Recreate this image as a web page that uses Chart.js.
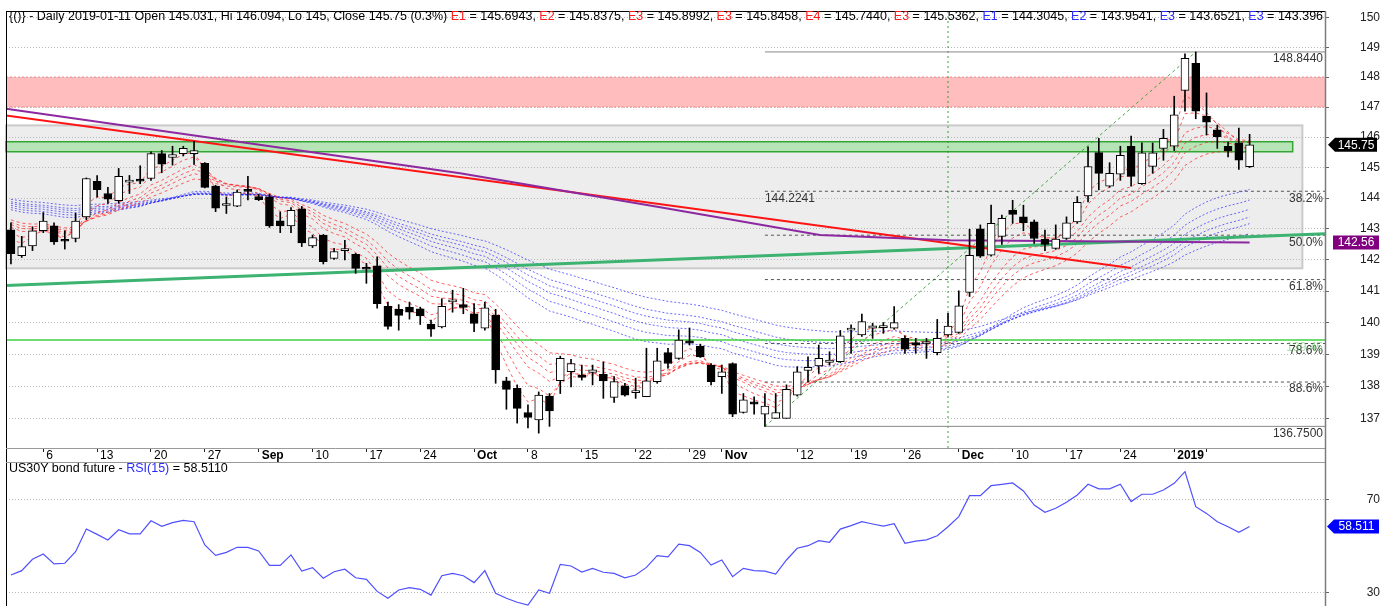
<!DOCTYPE html>
<html><head><meta charset="utf-8">
<script src="https://cdn.jsdelivr.net/npm/chart.js@4.4.1/dist/chart.umd.min.js"></script>
<style>
html,body{margin:0;padding:0;background:#fff;width:1399px;height:606px;overflow:hidden;font-family:"Liberation Sans",Arial,sans-serif;}
#c1{position:absolute;left:0;top:0;}
#c2{position:absolute;left:0;top:463px;}
#hdr{position:absolute;left:9px;top:9px;width:1314px;overflow:hidden;white-space:nowrap;font-size:12.5px;line-height:14px;color:#000;}
#rsiT{position:absolute;left:9px;top:461px;font-size:12.5px;line-height:14px;white-space:nowrap;color:#000;}
.r{color:#ff1a1a}.b{color:#2a2aff}
</style></head><body>
<canvas id="c1" width="1399" height="463"></canvas>
<canvas id="c2" width="1399" height="143"></canvas>
<div id="hdr">{()} - Daily 2019-01-11 Open 145.031, Hi 146.094, Lo 145, Close 145.75 (0.3%) <span class="r">E1</span> = 145.6943, <span class="r">E2</span> = 145.8375, <span class="r">E3</span> = 145.8992, <span class="r">E3</span> = 145.8458, <span class="r">E4</span> = 145.7440, <span class="r">E3</span> = 145.5362, <span class="b">E1</span> = 144.3045, <span class="b">E2</span> = 143.9541, <span class="b">E3</span> = 143.6521, <span class="b">E3</span> = 143.3960</div>
<div id="rsiT">US30Y bond future - <span class="b">RSI(15)</span> = 58.5110</div>
<script>
// ---------- DATA ----------
const dates = [
'2018-08-01','2018-08-02','2018-08-03','2018-08-06','2018-08-07','2018-08-08','2018-08-09','2018-08-10','2018-08-13','2018-08-14',
'2018-08-15','2018-08-16','2018-08-17','2018-08-20','2018-08-21','2018-08-22','2018-08-23','2018-08-24','2018-08-27','2018-08-28',
'2018-08-29','2018-08-30','2018-08-31','2018-09-03','2018-09-04','2018-09-05','2018-09-06','2018-09-07','2018-09-10','2018-09-11',
'2018-09-12','2018-09-13','2018-09-14','2018-09-17','2018-09-18','2018-09-19','2018-09-20','2018-09-21','2018-09-24','2018-09-25',
'2018-09-26','2018-09-27','2018-09-28','2018-10-01','2018-10-02','2018-10-03','2018-10-04','2018-10-05','2018-10-08','2018-10-09',
'2018-10-10','2018-10-11','2018-10-12','2018-10-15','2018-10-16','2018-10-17','2018-10-18','2018-10-19','2018-10-22','2018-10-23',
'2018-10-24','2018-10-25','2018-10-26','2018-10-29','2018-10-30','2018-10-31','2018-11-01','2018-11-02','2018-11-05','2018-11-06',
'2018-11-07','2018-11-08','2018-11-09','2018-11-12','2018-11-13','2018-11-14','2018-11-15','2018-11-16','2018-11-19','2018-11-20',
'2018-11-21','2018-11-22','2018-11-23','2018-11-26','2018-11-27','2018-11-28','2018-11-29','2018-11-30','2018-12-03','2018-12-04',
'2018-12-05','2018-12-06','2018-12-07','2018-12-10','2018-12-11','2018-12-12','2018-12-13','2018-12-14','2018-12-17','2018-12-18',
'2018-12-19','2018-12-20','2018-12-21','2018-12-24','2018-12-26','2018-12-27','2018-12-28','2018-12-31','2019-01-02','2019-01-03',
'2019-01-04','2019-01-07','2019-01-08','2019-01-09','2019-01-10','2019-01-11'];

const open = [142.97,142.14,142.45,142.94,143.10,142.62,142.69,143.39,144.55,144.15,
143.92,144.52,144.62,144.64,145.46,145.33,145.46,145.46,145.14,144.39,
143.76,143.74,144.24,144.05,144.04,143.26,143.10,143.65,142.45,142.80,
142.05,142.30,142.18,141.72,141.81,140.52,140.42,140.49,140.44,139.95,
139.86,140.66,140.57,140.28,139.82,140.24,138.17,137.93,137.18,136.95,
137.69,138.17,138.45,138.35,138.43,138.37,137.65,138.01,137.80,137.67,
138.14,139.05,138.87,139.42,139.26,138.66,138.30,138.71,137.18,137.51,
137.13,137.00,137.00,137.72,138.49,138.63,138.74,138.77,139.76,139.61,
139.82,139.84,139.82,139.50,139.37,139.34,139.05,139.61,139.69,140.96,
143.00,142.15,142.76,143.60,143.39,143.23,142.66,142.37,142.69,143.23,
144.07,145.49,144.39,144.78,145.70,144.47,145.04,145.63,145.70,147.55,
148.46,146.69,146.24,145.70,145.81,145.031];
const high = [143.20,142.76,143.07,143.53,143.20,142.94,143.51,144.66,144.74,144.35,
144.97,144.74,145.06,145.52,145.56,145.70,145.70,145.86,145.16,144.42,
144.03,144.26,144.71,144.13,144.13,143.55,143.69,143.73,142.80,142.82,
142.37,142.63,142.21,141.89,142.10,140.65,140.57,140.65,140.49,140.08,
140.76,141.03,141.09,140.60,140.65,140.42,138.28,138.04,137.42,137.82,
137.77,138.94,138.84,138.66,138.66,138.76,138.30,138.09,138.25,139.19,
139.19,139.19,139.77,139.83,139.32,138.71,138.66,138.73,137.77,137.67,
137.77,137.77,138.04,138.61,138.92,139.29,139.08,139.75,139.93,140.27,
139.98,140.00,140.51,139.58,139.50,139.50,140.10,140.29,141.01,142.99,
143.13,143.77,143.45,143.93,143.77,143.29,142.96,143.13,143.39,144.05,
145.68,145.96,145.16,145.70,146.04,145.81,145.81,146.26,147.36,148.78,
148.844,147.47,146.40,145.84,146.30,146.094];
const low = [141.87,142.08,142.30,142.88,142.50,142.35,142.58,143.30,144.03,143.83,
143.83,144.15,144.47,144.58,144.83,145.08,145.38,145.10,144.33,143.56,
143.50,143.72,143.94,143.92,143.05,142.88,142.88,142.43,142.40,141.87,
142.02,142.00,141.57,141.25,140.46,139.79,139.76,140.11,139.94,139.56,
139.83,140.33,140.28,139.71,139.76,138.09,137.28,136.85,136.70,136.54,
136.75,137.77,137.98,138.19,138.04,137.62,137.49,137.69,137.62,137.67,
138.09,138.56,138.84,139.29,138.90,138.04,137.77,137.05,137.16,137.13,
136.75,137.00,137.00,137.69,138.14,138.40,138.66,138.74,139.03,139.56,
139.50,139.66,139.79,139.03,139.03,138.87,138.98,139.56,139.66,140.83,
142.08,142.12,142.50,143.18,142.94,142.53,142.30,142.34,142.66,143.18,
143.88,144.27,144.35,144.58,144.39,144.45,144.81,145.24,145.56,146.86,
146.61,146.07,145.63,145.35,144.94,145.00];
const close = [142.20,142.43,142.94,143.25,142.58,142.60,143.25,144.64,144.28,143.97,
144.71,144.55,144.55,145.46,145.11,145.43,145.63,145.56,144.35,143.67,
143.82,144.20,144.22,143.95,143.10,143.10,143.60,142.55,142.72,141.94,
142.27,142.36,141.73,141.70,140.60,139.88,140.23,140.33,140.21,139.79,
140.52,140.68,140.48,139.97,140.47,138.51,137.90,137.31,137.03,137.72,
137.23,138.87,138.71,138.27,138.51,138.16,138.14,137.72,137.83,138.17,
138.79,138.71,139.45,139.35,138.92,138.14,138.45,137.13,137.57,137.44,
137.38,137.18,137.90,138.45,138.59,138.87,138.82,139.58,139.78,140.03,
139.90,139.86,140.00,139.16,139.29,139.36,139.50,139.89,140.53,142.15,
142.12,143.18,143.34,143.47,143.20,142.69,142.50,142.67,143.20,143.86,
145.03,144.81,144.81,145.40,144.71,145.48,145.48,145.96,146.74,148.63,
146.86,146.50,146.02,145.55,145.24,145.75];

const rsi15 = [37.5,39.4,44.3,46.6,42.3,42.6,47.6,57.4,55.1,52.7,
57.1,55.3,55.3,61.0,58.6,60.2,61.2,60.6,50.5,46.0,
47.3,49.5,49.5,47.9,41.7,41.7,46.2,39.2,40.7,36.1,
38.9,40.0,36.3,35.6,30.4,27.4,31.0,32.0,31.3,28.8,
37.2,38.2,37.2,34.2,39.4,29.6,27.4,25.7,24.5,31.0,
29.6,42.1,41.4,38.8,40.4,38.7,38.2,36.3,37.5,40.8,
45.9,45.4,50.9,50.2,47.3,41.8,44.0,36.8,40.4,39.4,
39.2,37.9,44.0,49.1,50.2,52.4,51.7,57.4,58.9,60.6,
59.6,58.7,59.7,51.2,52.2,52.7,54.5,58.4,62.8,71.9,
71.9,76.2,76.8,77.4,73.9,67.8,64.7,66.4,69.0,72.2,
76.8,74.8,74.8,76.8,69.3,72.5,72.5,74.3,77.2,82.3,
67.1,64.2,60.6,58.4,56.0,58.511];

// Guppy-style EMA ribbons (periods) and their values just before the first visible bar
const shortPeriods = [3, 5, 8, 10, 12, 15];
const shortSeeds   = [143.10, 143.20, 143.30, 143.35, 143.40, 143.45];
const longPeriods  = [30, 35, 40, 45, 50, 60];
const longSeeds    = [143.72, 143.78, 143.84, 143.90, 143.95, 144.02];

// x-axis tick labels (bar index -> text)
const xTickIdx  = [3, 8, 13, 18, 23, 28, 33, 38, 43, 48, 53, 58, 63, 66, 73, 78, 83, 88, 93, 98, 103, 108, 111];
const xTickText = ['6','13','20','27','Sep','10','17','24','Oct','8','15','22','29','Nov','12','19','26','Dec','10','17','24','2019',''];
const boldTicks = ['Sep','Oct','Nov','Dec','2019'];
const priceTicks = [137,138,139,140,141,142,143,144,145,146,147,148,149,150];
const rsiTicks = [30, 70];

// drawn studies (bar index, price)
const redTrend    = [[-0.46, 146.72], [104, 141.74]];
const purpleLine  = [[-0.46, 146.94], [41.7, 144.81], [60, 143.72], [75.1, 142.80], [87.2, 142.63], [115, 142.56]];
const greenTrend  = [[-0.46, 141.18], [122, 142.84]];
const supportLevel = 139.45;
const fibLowIdx = 70, fibLow = 136.75, fibHighIdx = 110, fibHigh = 148.844;
const fibRatios = [0.382, 0.5, 0.618, 0.786, 0.886];
const markerIdx = 87;
const pinkZone  = [147.0, 148.0];
const grayZone  = [141.73, 146.39, 119.9];
const greenZone = [145.52, 145.85, 119.0];
const lastClose = 145.75, purpleLast = 142.56, rsiLast = 58.511;

// ---------- HELPERS ----------
const X_MIN = -0.46, X_MAX = 122.0;
const Y_MIN = 136.082, Y_MAX = 150.23;
const FONT = '"Liberation Sans", Arial, sans-serif';
Chart.defaults.font.family = FONT;

function ema(src, period, seed) {
  const a = 2 / (period + 1); let e = seed;
  return src.map(c => (e = e + a * (c - e)));
}
const pts = arr => arr.map(p => ({x: p[0], y: p[1]}));
const fibLevel = r => fibHigh - r * (fibHigh - fibLow);
const noPad = s => { s.paddingTop = 0; s.paddingBottom = 0; s.paddingLeft = 0; s.paddingRight = 0; };

const datasets = [];
datasets.push({
  type: 'bar', order: 0, grouped: false, barThickness: 8, minBarLength: 2,
  data: open.map((o, i) => ({x: i, y: [o, close[i]]})),
  backgroundColor: open.map((o, i) => close[i] >= o ? '#ffffff' : '#000000'),
  borderColor: '#000', borderWidth: 1, borderSkipped: false
});
datasets.push({
  type: 'bar', order: 1, grouped: false, barThickness: 1,
  data: low.map((l, i) => ({x: i, y: [l, high[i]]})),
  backgroundColor: '#000', borderWidth: 0
});
const lineDs = (data, color, width, dash, order) => ({
  type: 'line', order, data, borderColor: color, borderWidth: width, borderDash: dash || [],
  pointRadius: 0, tension: 0, fill: false
});
datasets.push(lineDs(pts(purpleLine), 'rgb(140,40,160)', 2, [], 3));
datasets.push(lineDs(pts(redTrend), 'rgb(255,20,20)', 2, [], 3));
datasets.push(lineDs(pts(greenTrend), '#3cb371', 3, [], 4));
datasets.push(lineDs([{x: X_MIN, y: supportLevel}, {x: X_MAX, y: supportLevel}], '#3fd13f', 1.5, [], 4));
datasets.push(lineDs([{x: fibLowIdx, y: fibHigh}, {x: X_MAX, y: fibHigh}], '#888', 1, [], 5));
datasets.push(lineDs([{x: fibLowIdx, y: fibLow}, {x: X_MAX, y: fibLow}], '#888', 1, [], 5));
fibRatios.forEach(r => datasets.push(lineDs([{x: fibLowIdx, y: fibLevel(r)}, {x: X_MAX, y: fibLevel(r)}], '#555', 1, [3, 3], 5)));
datasets.push(lineDs([{x: fibLowIdx, y: fibLow}, {x: fibHighIdx, y: fibHigh}], 'rgba(50,160,50,0.9)', 1, [3, 3], 5));
datasets.push(lineDs([{x: markerIdx, y: Y_MIN}, {x: markerIdx, y: Y_MAX}], 'rgba(40,150,40,0.9)', 1, [2, 3], 5));
shortPeriods.forEach((p, k) => datasets.push(lineDs(ema(close, p, shortSeeds[k]).map((v, i) => ({x: i, y: v})), 'rgba(255,30,30,0.7)', 1, [3, 3], 6)));
longPeriods.forEach((p, k) => datasets.push(lineDs(ema(close, p, longSeeds[k]).map((v, i) => ({x: i, y: v})), 'rgba(30,30,255,0.65)', 1, [2, 2], 7)));

function hline(ctx, x0, x1, y) { ctx.beginPath(); ctx.moveTo(x0, y); ctx.lineTo(x1, y); ctx.stroke(); }
function vline(ctx, x, y0, y1) { ctx.beginPath(); ctx.moveTo(x, y0); ctx.lineTo(x, y1); ctx.stroke(); }
function tag(ctx, text, yc, bg, xl, xr, arrow) {
  const h = 14;
  ctx.fillStyle = bg; ctx.beginPath();
  if (arrow) { ctx.moveTo(xl, yc); ctx.lineTo(xl + 7, yc - h / 2); ctx.lineTo(xr, yc - h / 2); ctx.lineTo(xr, yc + h / 2); ctx.lineTo(xl + 7, yc + h / 2); }
  else { ctx.rect(xl, yc - h / 2, xr - xl, h); }
  ctx.closePath(); ctx.fill();
  ctx.fillStyle = '#fff'; ctx.font = '12px ' + FONT; ctx.textAlign = 'center'; ctx.textBaseline = 'middle';
  ctx.fillText(text, (xl + (arrow ? 7 : 0) + xr) / 2, yc + 0.5);
}

const overlay1 = {
  id: 'overlay1',
  beforeDraw(chart) {
    const {ctx, chartArea: a} = chart; const x = chart.scales.x, y = chart.scales.y;
    ctx.save();
    ctx.fillStyle = '#fff'; ctx.fillRect(0, 0, chart.width, chart.height);
    let t = y.getPixelForValue(pinkZone[1]), b = y.getPixelForValue(pinkZone[0]);
    ctx.fillStyle = '#ffbdbd'; ctx.fillRect(a.left, t, a.right - a.left, b - t);
    ctx.strokeStyle = '#ff8080'; ctx.lineWidth = 1; ctx.setLineDash([2, 2]);
    hline(ctx, a.left, a.right, t); hline(ctx, a.left, a.right, b);
    ctx.setLineDash([]);
    t = y.getPixelForValue(grayZone[1]); b = y.getPixelForValue(grayZone[0]);
    let r = x.getPixelForValue(grayZone[2]);
    ctx.fillStyle = '#ededed'; ctx.fillRect(a.left, t, r - a.left, b - t);
    ctx.strokeStyle = '#cacaca'; ctx.lineWidth = 2; ctx.strokeRect(a.left, t, r - a.left, b - t);
    t = y.getPixelForValue(greenZone[1]); b = y.getPixelForValue(greenZone[0]); r = x.getPixelForValue(greenZone[2]);
    ctx.fillStyle = '#b6e4b6'; ctx.fillRect(a.left, t, r - a.left, b - t);
    ctx.strokeStyle = '#33a633'; ctx.lineWidth = 1.5; ctx.strokeRect(a.left, t, r - a.left, b - t);
    ctx.restore();
  },
  afterDraw(chart) {
    const {ctx, chartArea: a} = chart; const x = chart.scales.x, y = chart.scales.y;
    ctx.save();
    ctx.font = '12px ' + FONT; ctx.textBaseline = 'middle'; ctx.fillStyle = '#333';
    ctx.textAlign = 'right';
    fibRatios.forEach(r => ctx.fillText((r * 100).toFixed(1) + '%', a.right - 2, y.getPixelForValue(fibLevel(r)) + 7));
    ctx.fillText(fibHigh.toFixed(4), a.right - 2, y.getPixelForValue(fibHigh) + 7);
    ctx.fillText(fibLow.toFixed(4), a.right - 2, y.getPixelForValue(fibLow) + 7);
    ctx.textAlign = 'left';
    ctx.fillText(fibLevel(0.382).toFixed(4), x.getPixelForValue(fibLowIdx), y.getPixelForValue(fibLevel(0.382)) + 7);
    ctx.fillStyle = 'rgba(90,200,90,0.55)'; ctx.textAlign = 'right';
    ctx.fillText(supportLevel.toFixed(2), a.right - 2, y.getPixelForValue(supportLevel) + 8);
    ctx.strokeStyle = '#000'; ctx.lineWidth = 1;
    vline(ctx, a.left + 0.5, a.top, chart.height);
    hline(ctx, a.left, a.right, a.top + 0.5);
    ctx.strokeStyle = '#9a9a9a';
    hline(ctx, a.left, a.right, a.bottom + 0.5);
    hline(ctx, a.left, a.right, chart.height - 0.5);
    ctx.strokeStyle = '#7c7c7c'; ctx.lineWidth = 1.5;
    vline(ctx, a.right + 0.5, a.top, chart.height);
    tag(ctx, lastClose.toFixed(2), y.getPixelForValue(lastClose), '#000', a.right + 3, a.right + 52, true);
    tag(ctx, purpleLast.toFixed(2), y.getPixelForValue(purpleLast), '#800080', a.right + 8, a.right + 54, false);
    ctx.restore();
  }
};

new Chart(document.getElementById('c1'), {
  type: 'bar',
  data: {datasets},
  options: {
    responsive: false, animation: false, devicePixelRatio: 1,
    layout: {padding: {left: 6, top: 11, right: 0, bottom: 0}},
    plugins: {legend: {display: false}, tooltip: {enabled: false}, title: {display: false}},
    scales: {
      x: {
        type: 'linear', min: X_MIN, max: X_MAX, bounds: 'data', offset: false, position: 'bottom',
        afterBuildTicks: s => { s.ticks = xTickIdx.map(v => ({value: v})); },
        afterFit: s => { s.height = 15; noPad(s); },
        grid: {drawOnChartArea: false, drawTicks: true, tickLength: 4, color: '#222', offset: false},
        border: {display: false},
        ticks: {
          autoSkip: false, maxRotation: 0, minRotation: 0, align: 'start', labelOffset: 3, padding: -4, color: '#000',
          font: c => ({size: 12, family: FONT, weight: (c.tick && boldTicks.includes(xTickText[xTickIdx.indexOf(c.tick.value)])) ? 'bold' : 'normal'}),
          callback: v => { const k = xTickIdx.indexOf(v); return k >= 0 ? xTickText[k] : ''; }
        }
      },
      y: {
        type: 'logarithmic', position: 'right', min: Y_MIN, max: Y_MAX, bounds: 'data',
        afterBuildTicks: s => { s.ticks = priceTicks.map(v => ({value: v})); },
        afterFit: s => { s.width = 74; noPad(s); },
        grid: {color: '#b8b8b8', lineWidth: 1, drawTicks: true, tickLength: 4, tickColor: '#666', tickBorderDash: []},
        border: {display: false, dash: [1, 2]},
        ticks: {crossAlign: 'center', padding: 31, color: '#222', font: {size: 12, family: FONT}, callback: v => String(v)}
      }
    }
  },
  plugins: [overlay1]
});

const overlay2 = {
  id: 'overlay2',
  beforeDraw(chart) { const {ctx} = chart; ctx.save(); ctx.fillStyle = '#fff'; ctx.fillRect(0, 0, chart.width, chart.height); ctx.restore(); },
  afterDraw(chart) {
    const {ctx, chartArea: a} = chart; const y = chart.scales.y;
    ctx.save();
    ctx.strokeStyle = '#000'; ctx.lineWidth = 1; vline(ctx, a.left + 0.5, 0, chart.height);
    ctx.strokeStyle = '#7c7c7c'; ctx.lineWidth = 1.5; vline(ctx, a.right + 0.5, 0, chart.height);
    tag(ctx, rsiLast.toFixed(3), y.getPixelForValue(rsiLast), '#0000ff', a.right + 2, a.right + 54, true);
    ctx.restore();
  }
};
new Chart(document.getElementById('c2'), {
  type: 'line',
  data: {datasets: [{data: rsi15.map((v, i) => ({x: i, y: v})), borderColor: 'rgb(80,80,255)', borderWidth: 1.2, pointRadius: 0, tension: 0, fill: false}]},
  options: {
    responsive: false, animation: false, devicePixelRatio: 1,
    layout: {padding: {left: 6, top: 0, right: 0, bottom: 0}},
    plugins: {legend: {display: false}, tooltip: {enabled: false}},
    scales: {
      x: {type: 'linear', min: X_MIN, max: X_MAX, bounds: 'data', display: false},
      y: {
        type: 'linear', position: 'right', min: 24.07, max: 86.03, bounds: 'data',
        afterBuildTicks: s => { s.ticks = rsiTicks.map(v => ({value: v})); },
        afterFit: s => { s.width = 74; noPad(s); },
        grid: {color: '#b8b8b8', lineWidth: 1, drawTicks: true, tickLength: 4, tickColor: '#666', tickBorderDash: []},
        border: {display: false, dash: [1, 2]},
        ticks: {crossAlign: 'center', padding: 37.7, color: '#222', font: {size: 12, family: FONT}, callback: v => String(v)}
      }
    }
  },
  plugins: [overlay2]
});
</script>
</body></html>
